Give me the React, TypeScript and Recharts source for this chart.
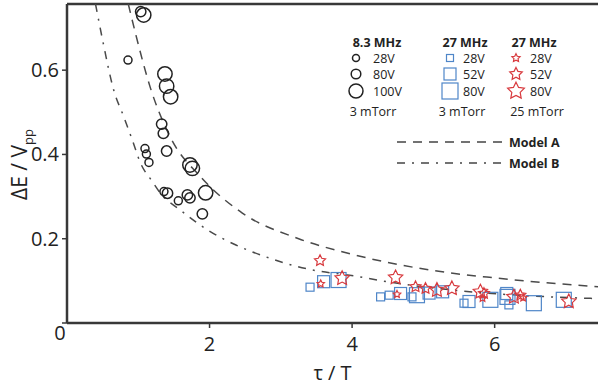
import { ComposedChart, Line, Scatter, XAxis, YAxis, ReferenceLine } from "recharts";

const X_MAX = 7.45;
const Y_MAX = 0.757;
const xTicks = [2, 4, 6];
const yTicks = [0, 0.2, 0.4, 0.6];

// model curves
const modelA: [number, number][] = [
  [0.86, 0.757], [0.96, 0.688], [1.17, 0.558], [1.45, 0.441], [1.88, 0.346],
  [2.46, 0.261], [3.25, 0.2], [4.0, 0.163], [5.24, 0.122], [6.0, 0.107], [7.45, 0.086],
];
const modelB: [number, number][] = [
  [0.4, 0.757], [0.5, 0.671], [0.655, 0.553], [0.795, 0.49], [0.917, 0.434],
  [1.03, 0.38], [1.2, 0.335], [1.31, 0.308], [1.59, 0.268], [1.97, 0.221],
  [2.37, 0.185], [2.79, 0.157], [3.23, 0.134], [3.44, 0.126], [4.09, 0.11],
  [4.35, 0.102], [5.42, 0.078], [6.78, 0.062], [7.45, 0.058],
];

// 8.3 MHz, 3 mTorr (circles)
const circle28: [number, number][] = [
  [0.856, 0.624], [1.094, 0.414], [1.114, 0.401], [1.15, 0.381], [1.562, 0.29], [1.36, 0.312],
];
const circle80: [number, number][] = [
  [1.034, 0.739], [1.328, 0.472], [1.352, 0.45], [1.398, 0.408], [1.41, 0.308],
  [1.689, 0.304], [1.725, 0.297], [1.899, 0.259],
];
const circle100: [number, number][] = [
  [1.076, 0.731], [1.374, 0.591], [1.398, 0.562], [1.454, 0.537], [1.725, 0.375],
  [1.759, 0.367], [1.945, 0.309],
];

// 27 MHz, 3 mTorr (squares)
const square28: [number, number][] = [
  [3.41, 0.085], [4.4, 0.062], [4.52, 0.066], [4.84, 0.062], [5.57, 0.047], [6.2, 0.043],
];
const square52: [number, number][] = [
  [3.6, 0.098], [4.68, 0.07], [5.08, 0.071], [5.27, 0.074], [5.64, 0.051], [6.17, 0.07],
];
const square80: [number, number][] = [
  [3.81, 0.102], [4.91, 0.066], [5.94, 0.055], [6.18, 0.062], [6.55, 0.047], [6.97, 0.055],
];

// 27 MHz, 25 mTorr (stars)
const star28: [number, number][] = [
  [3.56, 0.093], [4.63, 0.068], [5.83, 0.059], [6.4, 0.06],
];
const star52: [number, number][] = [
  [3.55, 0.148], [4.89, 0.086], [5.03, 0.082], [6.36, 0.066], [5.85, 0.07],
];
const star80: [number, number][] = [
  [3.86, 0.106], [4.61, 0.108], [5.19, 0.078], [5.8, 0.074], [6.27, 0.062], [7.04, 0.051], [5.4, 0.082],
];

const toXY = (arr: [number, number][]) => arr.map(([x, y]) => ({ x, y }));

const FONT = "'Open Sans', sans-serif";
const AXIS = "#383838";
const BLACK = "#222";
const BLUE = "#4f86c8";
const RED = "#d83a3e";

function starPoints(cx: number, cy: number, R: number) {
  const pts: string[] = [];
  for (let i = 0; i < 10; i++) {
    const a = -Math.PI / 2 + (i * Math.PI) / 5;
    const rad = i % 2 === 0 ? R : R * 0.5;
    pts.push(`${cx + rad * Math.cos(a)},${cy + rad * Math.sin(a)}`);
  }
  return pts.join(" ");
}

const circleShape = (r: number) => (p: any) => (
  <circle cx={p.cx} cy={p.cy} r={r} fill="none" stroke={BLACK} strokeWidth={1.5} />
);
const squareShape = (s: number) => (p: any) => (
  <rect x={p.cx - s / 2} y={p.cy - s / 2} width={s} height={s} fill="none" stroke={BLUE} strokeWidth={1.2} />
);
const starShape = (R: number) => (p: any) => (
  <polygon points={starPoints(p.cx, p.cy, R)} fill="none" stroke={RED} strokeWidth={1.2} />
);

function YTick(props: any) {
  const { x, y, payload } = props;
  if (payload.value === 0) {
    return (
      <text x={x + 1} y={y + 17} textAnchor="middle" fontSize={20} fontFamily={FONT} fill={BLACK}>
        0
      </text>
    );
  }
  return (
    <text x={x} y={y + 7} textAnchor="end" fontSize={20} fontFamily={FONT} fill={BLACK}>
      {payload.value.toFixed(1)}
    </text>
  );
}

function LegendBlock() {
  const t = { fontFamily: FONT, fontSize: 12.5, fill: BLACK };
  const b = { fontFamily: FONT, fontSize: 12.5, fontWeight: 700, fill: BLACK };
  const rows = [58, 74, 91];
  const volts1 = ["28V", "80V", "100V"];
  const volts2 = ["28V", "52V", "80V"];
  const circR = [3.5, 4.8, 7];
  const sq = [7, 12, 16];
  const stR = [4.3, 6.6, 8.8];
  return (
    <g>
      <text x={377} y={46.5} textAnchor="middle" {...b}>8.3 MHz</text>
      <text x={465} y={46.5} textAnchor="middle" {...b}>27 MHz</text>
      <text x={534} y={46.5} textAnchor="middle" {...b}>27 MHz</text>
      {rows.map((ry, i) => (
        <g key={i}>
          <circle cx={356} cy={ry} r={circR[i]} fill="none" stroke={BLACK} strokeWidth={1.5} />
          <text x={373} y={ry + 4.5} {...t}>{volts1[i]}</text>
          <rect x={450 - sq[i] / 2} y={ry - sq[i] / 2} width={sq[i]} height={sq[i]} fill="none" stroke={BLUE} strokeWidth={1.2} />
          <text x={463} y={ry + 4.5} {...t}>{volts2[i]}</text>
          <polygon points={starPoints(516, ry, stR[i])} fill="none" stroke={RED} strokeWidth={1.2} />
          <text x={530} y={ry + 4.5} {...t}>{volts2[i]}</text>
        </g>
      ))}
      <text x={373} y={116} textAnchor="middle" {...t}>3 mTorr</text>
      <text x={462} y={116} textAnchor="middle" {...t}>3 mTorr</text>
      <text x={537} y={116} textAnchor="middle" {...t}>25 mTorr</text>
      <line x1={397} x2={502} y1={142} y2={142} stroke="#444" strokeWidth={1.5} strokeDasharray="9 7" />
      <text x={509} y={146.5} {...b}>Model A</text>
      <line x1={397} x2={502} y1={163} y2={163} stroke="#444" strokeWidth={1.5} strokeDasharray="8 7 2 7" />
      <text x={509} y={167.5} {...b}>Model B</text>
    </g>
  );
}

export default function App() {
  return (
    <div style={{ position: "absolute", left: 0, top: 0, background: "#fff" }}>
      <ComposedChart width={598} height={387} margin={{ top: 4, right: 0, bottom: 0, left: 0 }}>
        <XAxis
          type="number"
          dataKey="x"
          domain={[0, X_MAX]}
          ticks={xTicks}
          allowDataOverflow
          height={64}
          tickSize={5}
          tickMargin={9}
          axisLine={{ stroke: AXIS, strokeWidth: 2.5 }}
          tickLine={{ stroke: AXIS, strokeWidth: 1.5 }}
          tick={{ fontSize: 20, fontFamily: FONT, fill: BLACK }}
          label={{
            content: (p: any) => {
              const vb = p.viewBox;
              return (
                <text x={vb.x + vb.width / 2} y={vb.y + 57} textAnchor="middle" fontSize={20} fontFamily={FONT} fill={BLACK}>
                  τ / T
                </text>
              );
            },
          }}
        />
        <YAxis
          type="number"
          dataKey="y"
          domain={[0, Y_MAX]}
          ticks={yTicks}
          allowDataOverflow
          width={67}
          tickSize={5}
          tickMargin={3}
          axisLine={{ stroke: AXIS, strokeWidth: 2.5 }}
          tickLine={{ stroke: AXIS, strokeWidth: 1.5 }}
          tick={<YTick />}
          label={{
            content: (p: any) => {
              const vb = p.viewBox;
              const cx = vb.x + 27;
              const cy = vb.y + 196;
              return (
                <text transform={`translate(${cx},${cy}) rotate(-90)`} x={0} y={0} fontSize={21} fontFamily={FONT} fill={BLACK}>
                  ΔE / V<tspan fontSize={13} dy={6}>pp</tspan>
                </text>
              );
            },
          }}
        />
        <ReferenceLine y={Y_MAX} stroke={AXIS} strokeWidth={2.5} />
        <Line data={toXY(modelA)} dataKey="y" type="monotone" stroke="#4a4a4a" strokeWidth={1.5} strokeDasharray="9 7" dot={false} isAnimationActive={false} />
        <Line data={toXY(modelB)} dataKey="y" type="monotone" stroke="#4a4a4a" strokeWidth={1.5} strokeDasharray="8 7 2 7" dot={false} isAnimationActive={false} />
        <Scatter data={toXY(circle28)} shape={circleShape(4)} isAnimationActive={false} />
        <Scatter data={toXY(circle80)} shape={circleShape(5.2)} isAnimationActive={false} />
        <Scatter data={toXY(circle100)} shape={circleShape(7.2)} isAnimationActive={false} />
        <Scatter data={toXY(square28)} shape={squareShape(8)} isAnimationActive={false} />
        <Scatter data={toXY(square52)} shape={squareShape(12)} isAnimationActive={false} />
        <Scatter data={toXY(square80)} shape={squareShape(15)} isAnimationActive={false} />
        <Scatter data={toXY(star28)} shape={starShape(3.9)} isAnimationActive={false} />
        <Scatter data={toXY(star52)} shape={starShape(5.8)} isAnimationActive={false} />
        <Scatter data={toXY(star80)} shape={starShape(7.5)} isAnimationActive={false} />
        <LegendBlock />
      </ComposedChart>
    </div>
  );
}
